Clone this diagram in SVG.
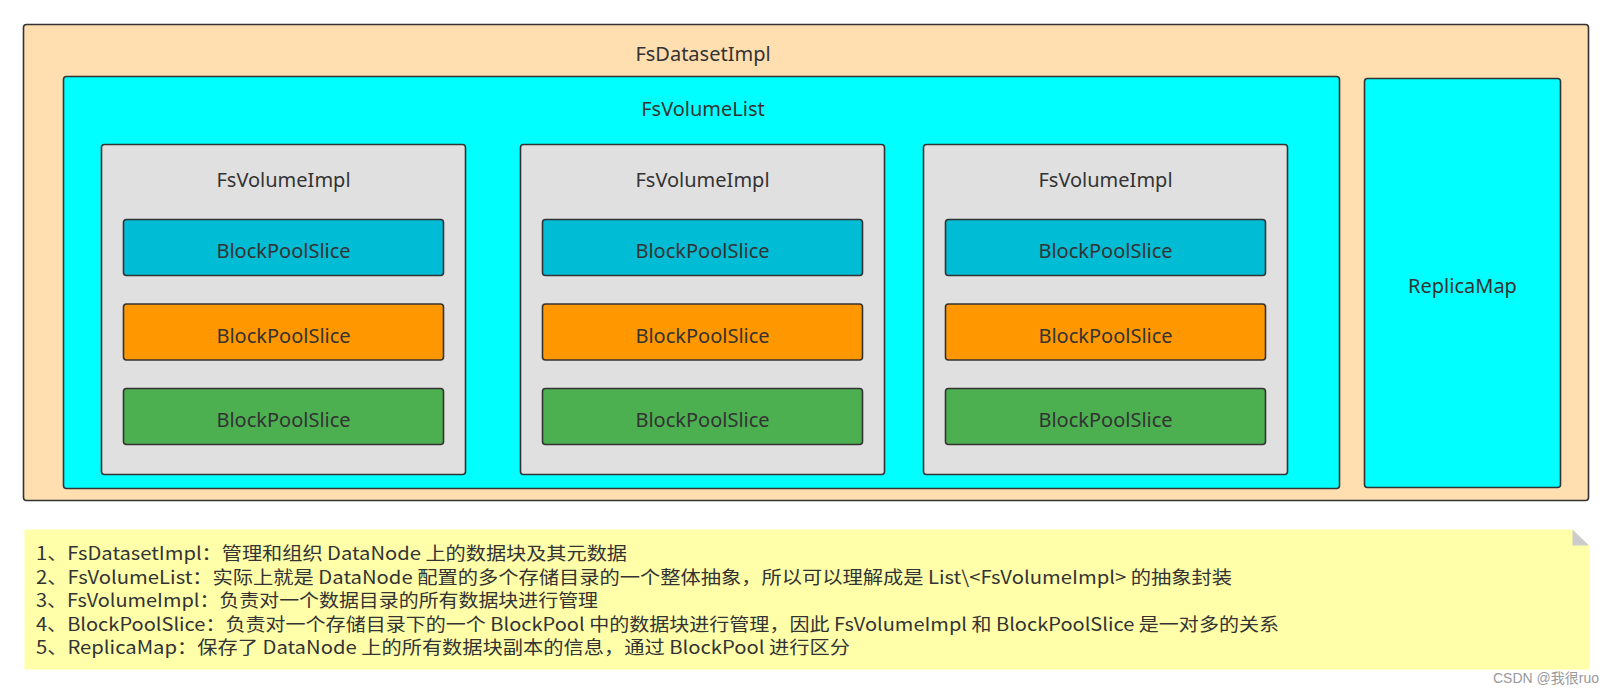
<svg xmlns="http://www.w3.org/2000/svg" width="1614" height="694" viewBox="0 0 1614 694">
<style>
.box{stroke:#333333;stroke-width:1.6}
.lbl{font-family:"Noto Sans","Open Sans",sans-serif;font-size:20px;fill:#333333;text-anchor:middle}
.note{font-family:"Noto Sans CJK SC","Noto Sans",sans-serif;font-size:18px;fill:#333333}
.bps-b{fill:#00BCD4}
.bps-o{fill:#FF9800}
.bps-g{fill:#4CAF50}
.vol{fill:#E0E0E0}
</style>
<rect width="1614" height="694" fill="#FFFFFF"/>
<g id="FsDatasetImpl">
<rect class="box" x="23.5" y="24.5" width="1565" height="476" rx="3" fill="#FFDFB0"/>
<text class="lbl" x="703" y="61">FsDatasetImpl</text>
</g>
<g id="FsVolumeList">
<rect class="box" x="63.5" y="76.5" width="1276" height="412" rx="3" fill="#00FFFF"/>
<text class="lbl" x="703" y="116">FsVolumeList</text>
</g>
<g id="ReplicaMap">
<rect class="box" x="1364.5" y="78.5" width="196" height="409" rx="3" fill="#00FFFF"/>
<text class="lbl" x="1462.5" y="293">ReplicaMap</text>
</g>
<g id="FsVolumeImpl1">
<rect class="box vol" x="101.5" y="144.5" width="364" height="330" rx="3"/>
<text class="lbl" x="283.5" y="186.5">FsVolumeImpl</text>
</g>
<g id="BPS1a"><rect class="box bps-b" x="123.5" y="219.5" width="320" height="56" rx="3"/><text class="lbl" x="283.5" y="258">BlockPoolSlice</text></g>
<g id="BPS1b"><rect class="box bps-o" x="123.5" y="304" width="320" height="56" rx="3"/><text class="lbl" x="283.5" y="342.5">BlockPoolSlice</text></g>
<g id="BPS1c"><rect class="box bps-g" x="123.5" y="388.5" width="320" height="56" rx="3"/><text class="lbl" x="283.5" y="427">BlockPoolSlice</text></g>
<g id="FsVolumeImpl2">
<rect class="box vol" x="520.5" y="144.5" width="364" height="330" rx="3"/>
<text class="lbl" x="702.5" y="186.5">FsVolumeImpl</text>
</g>
<g id="BPS2a"><rect class="box bps-b" x="542.5" y="219.5" width="320" height="56" rx="3"/><text class="lbl" x="702.5" y="258">BlockPoolSlice</text></g>
<g id="BPS2b"><rect class="box bps-o" x="542.5" y="304" width="320" height="56" rx="3"/><text class="lbl" x="702.5" y="342.5">BlockPoolSlice</text></g>
<g id="BPS2c"><rect class="box bps-g" x="542.5" y="388.5" width="320" height="56" rx="3"/><text class="lbl" x="702.5" y="427">BlockPoolSlice</text></g>
<g id="FsVolumeImpl3">
<rect class="box vol" x="923.5" y="144.5" width="364" height="330" rx="3"/>
<text class="lbl" x="1105.5" y="186.5">FsVolumeImpl</text>
</g>
<g id="BPS3a"><rect class="box bps-b" x="945.5" y="219.5" width="320" height="56" rx="3"/><text class="lbl" x="1105.5" y="258">BlockPoolSlice</text></g>
<g id="BPS3b"><rect class="box bps-o" x="945.5" y="304" width="320" height="56" rx="3"/><text class="lbl" x="1105.5" y="342.5">BlockPoolSlice</text></g>
<g id="BPS3c"><rect class="box bps-g" x="945.5" y="388.5" width="320" height="56" rx="3"/><text class="lbl" x="1105.5" y="427">BlockPoolSlice</text></g>
<g id="connectors"></g>
<g id="Note">
<polygon points="24.5,529.5 1572.5,529.5 1589,545.5 1589,669.5 24.5,669.5" fill="#FFFFAA"/>
<polygon points="1572.5,529.5 1589,545.5 1572.5,545.5" fill="#CCCCCC"/>
<text class="note" x="36" y="560" textLength="591" lengthAdjust="spacingAndGlyphs">1、FsDatasetImpl：管理和组织 DataNode 上的数据块及其元数据</text>
<text class="note" x="36" y="583.5" textLength="1196" lengthAdjust="spacingAndGlyphs">2、FsVolumeList：实际上就是 DataNode 配置的多个存储目录的一个整体抽象，所以可以理解成是 List\&lt;FsVolumeImpl&gt; 的抽象封装</text>
<text class="note" x="36" y="607" textLength="562" lengthAdjust="spacingAndGlyphs">3、FsVolumeImpl：负责对一个数据目录的所有数据块进行管理</text>
<text class="note" x="36" y="630.5" textLength="1243" lengthAdjust="spacingAndGlyphs">4、BlockPoolSlice：负责对一个存储目录下的一个 BlockPool 中的数据块进行管理，因此 FsVolumeImpl 和 BlockPoolSlice 是一对多的关系</text>
<text class="note" x="36" y="654" textLength="814" lengthAdjust="spacingAndGlyphs">5、ReplicaMap：保存了 DataNode 上的所有数据块副本的信息，通过 BlockPool 进行区分</text>
</g>
<text x="1493" y="683" font-family="'Liberation Sans','Noto Sans CJK SC',sans-serif" font-size="14" fill="#999999">CSDN @我很ruo</text>
</svg>
